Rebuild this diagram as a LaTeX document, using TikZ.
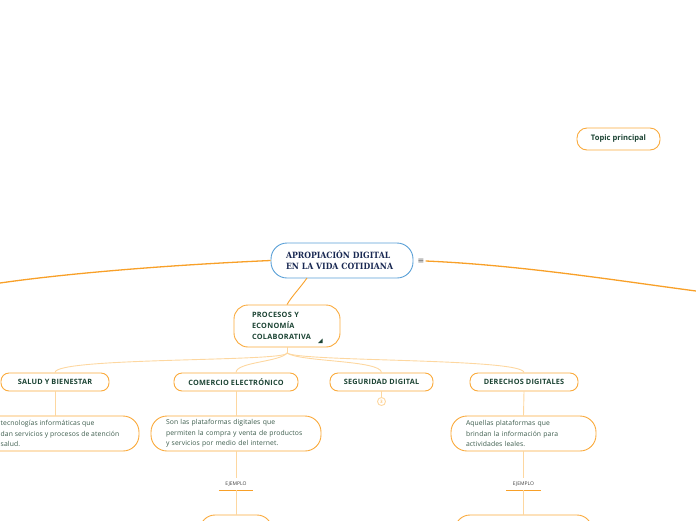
\documentclass[tikz,border=0pt]{standalone}
\usepackage{fontspec}
\setmainfont{Open Sans}
\newfontfamily\titlefont{DejaVu Serif Condensed}
\newfontfamily\symfont{DejaVu Sans}
\definecolor{boxorange}{RGB}{250,170,60}
\definecolor{mainorange}{RGB}{248,160,40}
\definecolor{lightline}{RGB}{253,215,160}
\definecolor{mapblue}{RGB}{90,160,215}
\definecolor{txtgreen}{RGB}{28,68,52}
\definecolor{desctxt}{RGB}{60,92,76}
\definecolor{navy}{RGB}{25,40,82}
\begin{document}
\begin{tikzpicture}[x=1pt,y=-1pt,
  box/.style={draw=boxorange, line width=0.9pt, fill=white, rounded corners=#1, inner sep=0pt},
  box/.default=8pt,
  lbl/.style={text=txtgreen, font=\addfontfeature{LetterSpace=3}\bfseries\fontsize{7.3}{8}\selectfont},
  desc/.style={text=desctxt, font=\addfontfeature{LetterSpace=1.5}\fontsize{6.8}{10.5}\selectfont, align=left},
  mainbranch/.style={draw=mainorange, line width=1.3pt},
  thinbranch/.style={draw=lightline, line width=0.9pt},
  ejlabel/.style={text=black!75, font=\fontsize{5}{6}\selectfont, minimum width=34pt, minimum height=12pt, inner sep=0pt},
  ejline/.style={draw=mainorange, line width=1.1pt}
]
\useasboundingbox (0,0) rectangle (696,520);

% central topic
\node[draw=mapblue, line width=0.9pt, fill=white, rounded corners=16pt,
      minimum height=35pt, text width=112pt, inner xsep=15pt, inner ysep=0pt,
      align=left, text=navy, font=\titlefont\bfseries\fontsize{8.6}{11}\selectfont]
      (central) at (342,260.5) {APROPIACIÓN DIGITAL\\EN LA VIDA COTIDIANA};
\node[text=black!65, font=\symfont\fontsize{8}{8}\selectfont, inner sep=1pt] (menu) at (421,261) {≡};

% floating topic
\node[box=10pt, lbl, font=\bfseries\fontsize{7.6}{8}\selectfont, minimum width=83pt, minimum height=22pt] (topic) at (618.5,139) {Topic principal};

% main branch ends
\coordinate (lend) at (0,283);
\coordinate (rend) at (696,291);
\draw[mainbranch] (central.west) .. controls (170,265) and (70,273) .. (lend);
\draw[mainbranch] (menu.east) .. controls (520,265) and (620,281) .. (rend);

% procesos
\node[box=14pt, lbl, font=\addfontfeature{LetterSpace=4}\bfseries\fontsize{7.3}{11}\selectfont, minimum height=42pt,
      text width=70pt, inner xsep=18pt, align=left]
      (procesos) at (287,326) {PROCESOS Y\\ECONOMÍA\\COLABORATIVA};
\fill[txtgreen] (318,343) -- (322.5,343) -- (322.5,338.5) -- cycle;
\draw[draw=mainorange, line width=0.9pt] (307,278) .. controls (300,288) and (292,296) .. (procesos.north);

% children
\node[box, lbl, minimum width=108pt, minimum height=18pt] (salud) at (55,382) {SALUD Y BIENESTAR};
\node[box, lbl, minimum width=124pt, minimum height=18pt] (comercio) at (236,382) {COMERCIO ELECTRÓNICO};
\node[box, lbl, minimum width=103pt, minimum height=18pt] (seguridad) at (381.5,382) {SEGURIDAD DIGITAL};
\node[box, lbl, minimum width=108pt, minimum height=18pt] (derechos) at (524,382) {DERECHOS DIGITALES};

\coordinate (fork) at (287,353);
\draw[thinbranch] (procesos.south) -- (fork);
\draw[thinbranch] (fork) .. controls (287,362) and (55,357) .. (salud.north);
\draw[thinbranch] (fork) .. controls (280,362) and (236,362) .. (comercio.north);
\draw[thinbranch] (fork) .. controls (300,362) and (381,360) .. (seguridad.north);
\draw[thinbranch] (fork) .. controls (300,362) and (523,358) .. (derechos.north);

% seguridad count
\node[circle, draw=lightline, line width=0.9pt, text=boxorange, minimum size=8pt, inner sep=0pt,
      font=\fontsize{4.5}{5}\selectfont] (num) at (381.5,401.5) {3};
\draw[thinbranch] (seguridad.south) -- (num.north);

% descriptions
\node[box=16pt, minimum width=168pt, minimum height=35pt] (saluddesc) at (55,433.5) {};
\node[desc, anchor=west, inner sep=0pt] (saludtxt) at (0.5,433.5)
  {tecnologías informáticas que\\dan servicios y procesos de atención\\salud.};
\node[box=16pt, desc, minimum height=35pt, text width=140pt, inner xsep=15pt]
  (comerciodesc) at (236,433.5)
  {Son las plataformas digitales que\\permiten la compra y venta de productos\\y servicios por medio del internet.};
\node[box=16pt, desc, minimum height=35pt, text width=115pt, inner xsep=15pt]
  (derechosdesc) at (523.5,433.5)
  {Aquellas plataformas que\\brindan la información para\\actividades leales.};

\draw[thinbranch] (salud.south) -- (saluddesc.north -| salud.south);
\draw[thinbranch] (comercio.south) -- (comerciodesc.north);
\draw[thinbranch] (derechos.south) -- (derechosdesc.north);

% ejemplo labels
\node[ejlabel] (ej1) at (236,484) {EJEMPLO};
\node[ejlabel] (ej2) at (523.5,484) {EJEMPLO};
\draw[ejline] (ej1.south west) -- (ej1.south east);
\draw[ejline] (ej2.south west) -- (ej2.south east);
\draw[thinbranch] (comerciodesc.south) -- (ej1.north);
\draw[thinbranch] (derechosdesc.south) -- (ej2.north);

% partially visible examples
\node[box=15pt, minimum width=72pt, minimum height=30pt] (ex1) at (236,530) {};
\node[box=15pt, minimum width=137pt, minimum height=30pt] (ex2) at (523.5,530) {};
\draw[thinbranch] (ej1.south) -- (ex1.north);
\draw[thinbranch] (ej2.south) -- (ex2.north);
\end{tikzpicture}
\end{document}
